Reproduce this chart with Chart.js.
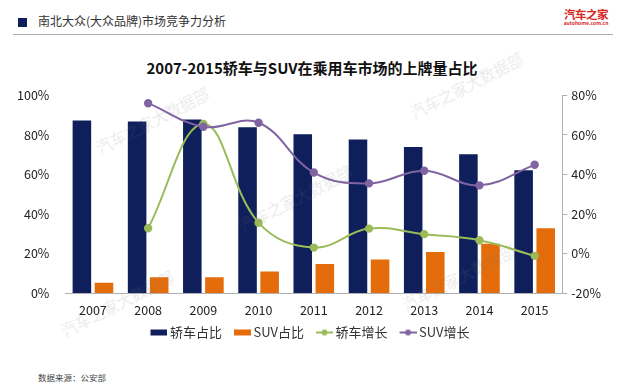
<!DOCTYPE html>
<html>
<head>
<meta charset="utf-8">
<script src="https://cdn.jsdelivr.net/npm/chart.js@4.4.1/dist/chart.umd.min.js"></script>
<style>
  body { margin: 0; background: #fff; font-family: "Noto Sans CJK SC", sans-serif; }
  #page { position: relative; width: 620px; height: 385px; overflow: hidden; }
  .hdr { position: absolute; left: 18px; top: 12px; font-size: 12px; line-height: 18px; color: #333; }
  .hdr span { display: inline-block; width: 9px; height: 9px; background: #0e1f5b; margin-right: 11px; vertical-align: -1px; }
  .rule { position: absolute; left: 13px; top: 34px; width: 600px; height: 1px; background: #b0b0b0; }
  .logo { position: absolute; left: 562px; top: 8px; width: 48px; text-align: center; color: #d7261e; font-weight: bold; font-size: 11.5px; line-height: 12px; letter-spacing: -0.5px; }
  .logo small { display: block; font-size: 5px; line-height: 6px; font-weight: bold; letter-spacing: 0; }
  .title { position: absolute; left: 112px; width: 400px; top: 58px; text-align: center; font-weight: bold; font-size: 15px; line-height: 20px; color: #111; }
  .src { position: absolute; left: 38px; top: 371px; font-size: 8.5px; line-height: 12px; color: #444; }
  .wm { position: absolute; font-size: 15.5px; color: rgba(120,120,120,0.16); white-space: nowrap; transform-origin: 0 50%; transform: rotate(-27deg); }
  #box { position: absolute; left: 0; top: 80px; width: 620px; height: 273px; }
</style>
</head>
<body>
<div id="page">
  <div class="hdr"><span></span>南北大众(大众品牌)市场竞争力分析</div>
  <div class="logo">汽车之家<small>autohome.com.cn</small></div>
  <div class="rule"></div>
  <div class="title">2007-2015轿车与SUV在乘用车市场的上牌量占比</div>
  <div id="box"><canvas id="chart"></canvas></div>
  <div class="src">数据来源：公安部</div>
  <div class="wm" style="left:97px; top:137px;">汽车之家大数据部</div>
  <div class="wm" style="left:240px; top:215px;">汽车之家大数据部</div>
  <div class="wm" style="left:411px; top:102px;">汽车之家大数据部</div>
  <div class="wm" style="left:62px; top:320px;">汽车之家大数据部</div>
  <div class="wm" style="left:403px; top:294px;">汽车之家大数据部</div>
</div>
<script>
// values (percent)
const years = ['2007', '2008', '2009', '2010', '2011', '2012', '2013', '2014', '2015'];
const sedanShare = [87.3, 86.8, 87.8, 83.9, 80.4, 77.7, 73.9, 70.2, 62.2];
const suvShare = [5.2, 8.0, 8.0, 10.9, 14.7, 16.9, 20.8, 25.0, 32.8];
const sedanGrowth = [null, 12.8, 65.6, 15.6, 3.0, 12.6, 9.8, 6.7, -1.2];
const suvGrowth = [null, 76.1, 64.2, 66.2, 41.0, 35.5, 41.9, 34.5, 44.9];
const leftTicks = [0, 20, 40, 60, 80, 100];
const rightTicks = [-20, 0, 20, 40, 60, 80];

const NAVY = '#0e1f5b';
const ORANGE = '#e46c0a';
const GREEN = '#9bbb59';
const PURPLE = '#8064a2';
const FONT = '"Noto Sans CJK SC", sans-serif';

// small legend icons, Excel style (10px blank margin on the left for spacing)
function boxIcon(color) {
    const c = document.createElement('canvas');
    c.width = 27; c.height = 8;
    const g = c.getContext('2d');
    g.fillStyle = color;
    g.fillRect(10, 1, 17, 6);
    return c;
}
function lineIcon(color) {
    const c = document.createElement('canvas');
    c.width = 27; c.height = 8;
    const g = c.getContext('2d');
    g.strokeStyle = color;
    g.lineWidth = 2;
    g.beginPath(); g.moveTo(10, 4); g.lineTo(27, 4); g.stroke();
    g.fillStyle = color;
    g.beginPath(); g.arc(18.5, 4, 3, 0, Math.PI * 2); g.fill();
    return c;
}

document.addEventListener("DOMContentLoaded", function() {
    const ctx = document.getElementById('chart').getContext('2d');

    new Chart(ctx, {
        type: 'bar',
        data: {
            labels: years,
            datasets: [
                {
                    label: '轿车占比', data: sedanShare, backgroundColor: NAVY,
                    yAxisID: 'y', order: 3, legendIcon: boxIcon(NAVY),
                    categoryPercentage: 0.8, barPercentage: 0.84
                },
                {
                    label: 'SUV占比', data: suvShare, backgroundColor: ORANGE,
                    yAxisID: 'y', order: 4, legendIcon: boxIcon(ORANGE),
                    categoryPercentage: 0.8, barPercentage: 0.84
                },
                {
                    type: 'line', label: '轿车增长', data: sedanGrowth,
                    borderColor: GREEN, backgroundColor: GREEN, borderWidth: 2,
                    pointRadius: 3.2, pointHoverRadius: 3.2, tension: 0.4,
                    yAxisID: 'y1', order: 2, legendIcon: lineIcon(GREEN)
                },
                {
                    type: 'line', label: 'SUV增长', data: suvGrowth,
                    borderColor: PURPLE, backgroundColor: PURPLE, borderWidth: 2,
                    pointRadius: 3.2, pointHoverRadius: 3.2, tension: 0.4,
                    yAxisID: 'y1', order: 1, legendIcon: lineIcon(PURPLE)
                }
            ]
        },
        options: {
            responsive: true,
            maintainAspectRatio: false,
            animation: false,
            layout: { padding: { left: 9, right: 15, top: 2, bottom: 4 } },
            plugins: {
                tooltip: { enabled: false },
                legend: {
                    position: 'bottom',
                    labels: {
                        font: { family: FONT, size: 13 },
                        color: '#333',
                        usePointStyle: true,
                        pointStyleWidth: 19,
                        padding: 6,
                        generateLabels: function(chart) {
                            return chart.data.datasets.map(function(ds, i) {
                                return {
                                    text: ds.label,
                                    pointStyle: ds.legendIcon,
                                    fillStyle: ds.backgroundColor,
                                    strokeStyle: ds.backgroundColor,
                                    lineWidth: 0,
                                    fontColor: '#333',
                                    hidden: false,
                                    datasetIndex: i
                                };
                            });
                        }
                    }
                }
            },
            scales: {
                x: {
                    grid: { display: false },
                    border: { display: true, color: '#b0b0b0', width: 1 },
                    ticks: { font: { family: FONT, size: 12.5 }, color: '#222', padding: 2 }
                },
                y: {
                    position: 'left',
                    min: 0, max: 100,
                    afterBuildTicks: function(axis) { axis.ticks = leftTicks.map(v => ({ value: v })); },
                    grid: { display: false },
                    border: { display: false },
                    ticks: {
                        font: { family: FONT, size: 12.5 }, color: '#222', padding: 8,
                        callback: v => v + '%'
                    }
                },
                y1: {
                    position: 'right',
                    min: -20, max: 80,
                    afterBuildTicks: function(axis) { axis.ticks = rightTicks.map(v => ({ value: v })); },
                    grid: { drawOnChartArea: false, drawTicks: true, tickLength: 5, color: '#b0b0b0' },
                    border: { display: true, color: '#b0b0b0', width: 1 },
                    ticks: {
                        font: { family: FONT, size: 12.5 }, color: '#222', padding: 4,
                        callback: v => v + '%'
                    }
                }
            }
        }
    });
});
</script>
</body>
</html>
